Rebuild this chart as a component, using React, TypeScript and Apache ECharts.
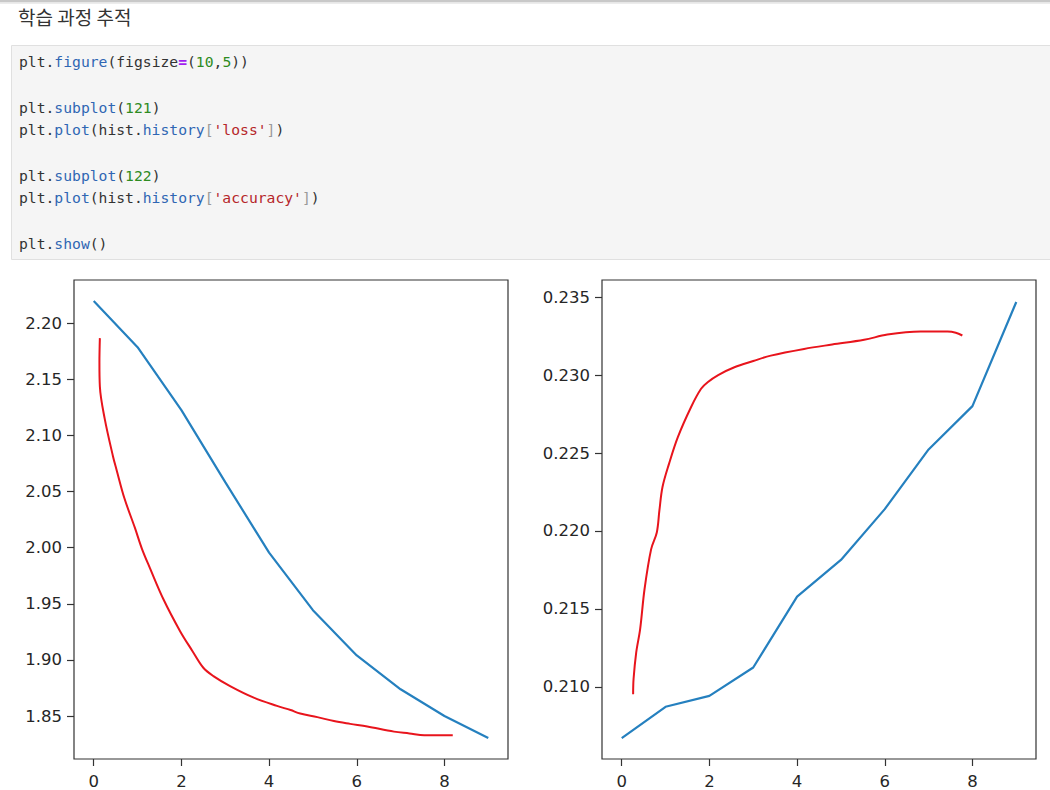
import React, { useEffect, useRef } from "react";
import * as echarts from "echarts";

// ---- data ----
const epochs = [0, 1, 2, 3, 4, 5, 6, 7, 8, 9];
const lossValues = [2.2198, 2.1786, 2.1225, 2.0584, 1.9956, 1.9443, 1.904, 1.8738, 1.85, 1.8305];
const accuracyValues = [0.20671, 0.20872, 0.20942, 0.21124, 0.21579, 0.21814, 0.2214, 0.22523, 0.22801, 0.23469];

// hand-drawn red annotation strokes (data coordinates)
const lossStroke: [number, number][] = [
  [0.14, 2.1867], [0.13, 2.165], [0.14, 2.1436], [0.25, 2.115], [0.44, 2.0813], [0.52, 2.0695],
  [0.7, 2.044], [0.94, 2.0176], [1.1, 1.999], [1.28, 1.982], [1.59, 1.954], [1.97, 1.9256],
  [2.25, 1.908], [2.5, 1.893], [2.73, 1.8856], [3.11, 1.8767], [3.65, 1.8664], [4.18, 1.859],
  [4.49, 1.8553], [4.71, 1.8522], [5.1, 1.849], [5.48, 1.8455], [5.85, 1.843], [6.24, 1.8406],
  [6.85, 1.8361], [7.2, 1.8345], [7.54, 1.8328], [8.19, 1.8328],
];
const accuracyStroke: [number, number][] = [
  [0.26, 0.20953], [0.27, 0.2105], [0.33, 0.2122], [0.42, 0.2137], [0.52, 0.21626], [0.67, 0.21882],
  [0.8, 0.2199], [0.86, 0.22133], [0.93, 0.22282], [1.08, 0.22432], [1.28, 0.22602], [1.58, 0.22794],
  [1.81, 0.22912], [1.96, 0.22954], [2.2, 0.2300], [2.57, 0.2305], [3.0, 0.2309], [3.4, 0.23125],
  [4.16, 0.23168], [4.8, 0.23196], [5.53, 0.23226], [6.06, 0.2326], [6.82, 0.23279], [7.43, 0.23279],
  [7.62, 0.23272], [7.77, 0.23254],
];

const xTicks = [0, 2, 4, 6, 8];
const lossTicks = [1.85, 1.9, 1.95, 2.0, 2.05, 2.1, 2.15, 2.2];
const accuracyTicks = [0.21, 0.215, 0.22, 0.225, 0.23, 0.235];

const titleText = "학습 과정 추적";
// code lines as rich-text segments [style, text]
const codeLines: [string, string][][] = [
  [["d", "plt."], ["b", "figure"], ["d", "(figsize"], ["p", "="], ["d", "("], ["g", "10"], ["d", ","], ["g", "5"], ["d", "))"]],
  [],
  [["d", "plt."], ["b", "subplot"], ["d", "("], ["g", "121"], ["d", ")"]],
  [["d", "plt."], ["b", "plot"], ["d", "(hist."], ["b", "history"], ["k", "["], ["r", "'loss'"], ["k", "]"], ["d", ")"]],
  [],
  [["d", "plt."], ["b", "subplot"], ["d", "("], ["g", "122"], ["d", ")"]],
  [["d", "plt."], ["b", "plot"], ["d", "(hist."], ["b", "history"], ["k", "["], ["r", "'accuracy'"], ["k", "]"], ["d", ")"]],
  [],
  [["d", "plt."], ["b", "show"], ["d", "()"]],
];

const MONO = "'DejaVu Sans Mono', monospace";
const richStyles: any = {
  d: { fill: "#333333", fontFamily: MONO, fontSize: 14.7 },
  b: { fill: "#2f66b3", fontFamily: MONO, fontSize: 14.7 },
  g: { fill: "#2e8b21", fontFamily: MONO, fontSize: 14.7 },
  p: { fill: "#a31ff0", fontFamily: MONO, fontSize: 14.7, fontWeight: "bold" },
  r: { fill: "#b5262a", fontFamily: MONO, fontSize: 14.7 },
  k: { fill: "#9a9a9a", fontFamily: MONO, fontSize: 14.7 },
};

const TICK_FONT = { fontFamily: "'DejaVu Sans', sans-serif", fontSize: 16.5, color: "#262626" };

export default function App() {
  const ref = useRef<HTMLDivElement>(null);
  useEffect(() => {
    if (!ref.current) return;
    const chart = echarts.init(ref.current, null, { renderer: "svg" });

    const codeGraphics: any[] = [];
    codeLines.forEach((segs, i) => {
      if (!segs.length) return;
      codeGraphics.push({
        type: "text",
        x: 19,
        y: 61.7 + 22.7 * i,
        style: {
          text: segs.map(([s, t]) => `{${s}|${t}}`).join(""),
          rich: richStyles,
          verticalAlign: "middle",
          font: `14.7px ${MONO}`,
        },
      });
    });

    const xAxisCommon = (gridIndex: number) => ({
      type: "value",
      gridIndex,
      min: -0.45,
      max: 9.45,
      splitLine: { show: false },
      axisLine: { show: false, onZero: false },
      axisTick: { show: true, length: 7, inside: false, customValues: xTicks, lineStyle: { color: "#333", width: 1.2 } },
      axisLabel: { ...TICK_FONT, margin: 14, customValues: xTicks, formatter: (v: number) => String(v) },
    });

    const yAxisCommon = (gridIndex: number, min: number, max: number, ticks: number[], dec: number) => ({
      type: "value",
      gridIndex,
      min,
      max,
      splitLine: { show: false },
      axisLine: { show: false, onZero: false },
      axisTick: { show: true, length: 7, inside: false, customValues: ticks, lineStyle: { color: "#333", width: 1.2 } },
      axisLabel: { ...TICK_FONT, margin: 12, customValues: ticks, formatter: (v: number) => v.toFixed(dec) },
    });

    chart.setOption({
      animation: false,
      backgroundColor: "#ffffff",
      grid: [
        { left: 74, top: 280, width: 434, height: 480, show: true, borderColor: "#333", borderWidth: 1.2, backgroundColor: "transparent" },
        { left: 602, top: 280, width: 434, height: 480, show: true, borderColor: "#333", borderWidth: 1.2, backgroundColor: "transparent" },
      ],
      xAxis: [xAxisCommon(0), xAxisCommon(1)],
      yAxis: [
        yAxisCommon(0, 1.8117, 2.2385, lossTicks, 2),
        yAxisCommon(1, 0.20537, 0.2361, accuracyTicks, 3),
      ],
      series: [
        {
          type: "line", xAxisIndex: 0, yAxisIndex: 0, showSymbol: false, silent: true,
          data: epochs.map((e, i) => [e, lossValues[i]]),
          lineStyle: { color: "#2580bf", width: 2.2 },
        },
        {
          type: "line", xAxisIndex: 0, yAxisIndex: 0, showSymbol: false, silent: true, smooth: 0.35,
          data: lossStroke,
          lineStyle: { color: "#e8141c", width: 2 },
        },
        {
          type: "line", xAxisIndex: 1, yAxisIndex: 1, showSymbol: false, silent: true,
          data: epochs.map((e, i) => [e, accuracyValues[i]]),
          lineStyle: { color: "#2580bf", width: 2.2 },
        },
        {
          type: "line", xAxisIndex: 1, yAxisIndex: 1, showSymbol: false, silent: true, smooth: 0.35,
          data: accuracyStroke,
          lineStyle: { color: "#e8141c", width: 2 },
        },
      ],
      graphic: [
        { type: "rect", shape: { x: 0, y: 0, width: 1050, height: 2.5 }, style: { fill: "#c8c8c8" } },
        { type: "rect", shape: { x: 0, y: 2.5, width: 1050, height: 1.5 }, style: { fill: "#ececec" } },
        {
          type: "text", x: 18, y: 16,
          style: { text: titleText, font: "19px 'Noto Sans CJK KR', sans-serif", fill: "#333333", verticalAlign: "middle" },
        },
        {
          type: "rect", shape: { x: 11.5, y: 45.5, width: 1045, height: 214 },
          style: { fill: "#f5f5f5", stroke: "#e0e0e0", lineWidth: 1 },
        },
        ...codeGraphics,
      ],
    });
    return () => chart.dispose();
  }, []);
  return <div ref={ref} style={{ position: "absolute", left: 0, top: 0, width: 1050, height: 790 }} />;
}
